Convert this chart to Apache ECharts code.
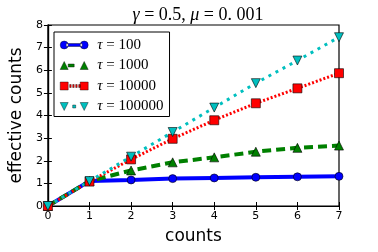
<!DOCTYPE html>
<html><head><meta charset="utf-8">
<script src="https://cdn.jsdelivr.net/npm/echarts@6/dist/echarts.min.js"></script>
<style>html,body{margin:0;padding:0;background:#fff}#c{width:378px;height:252px}</style>
</head><body><div id="c"></div>
<script>
const counts = [0, 1, 2, 3, 4, 5, 6, 7];
const tau100 = [0, 1.1, 1.15, 1.21, 1.24, 1.27, 1.29, 1.31];
const tau1000 = [0, 1.1, 1.57, 1.93, 2.15, 2.4, 2.57, 2.67];
const tau10000 = [0, 1.08, 2.06, 2.97, 3.79, 4.54, 5.2, 5.87];
const tau100000 = [0, 1.1, 2.18, 3.27, 4.35, 5.43, 6.43, 7.46];
const seriesNames = ['τ = 100', 'τ = 1000', 'τ = 10000', 'τ = 100000'];
const titleText = '{i|γ} = 0.5, {i|μ} = 0. 001';
const xLabel = 'counts';
const yLabel = 'effective counts';

const pair = arr => counts.map((c, i) => [c, arr[i]]);
const chart = echarts.init(document.getElementById('c'));
const serif = 'Liberation Serif';
const sans = 'DejaVu Sans';

const icons = [
  'path://M0,4A4,4 0 1,0 8,4A4,4 0 1,0 0,4ZM6,2.5L22,2.5L22,5.5L6,5.5ZM20,4A4,4 0 1,0 28,4A4,4 0 1,0 20,4Z',
  'path://M0,8L4,0L8,8ZM8,2.5L14,2.5L14,5.5L8,5.5ZM20,8L24,0L28,8Z',
  'path://M0,0L8,0L8,8L0,8ZM9.5,2.5L11,2.5L11,5.5L9.5,5.5ZM12.5,2.5L14,2.5L14,5.5L12.5,5.5ZM15.5,2.5L17,2.5L17,5.5L15.5,5.5ZM18.5,2.5L20,2.5L20,5.5L18.5,5.5ZM20,0L28,0L28,8L20,8Z',
  'path://M0,0L8,0L4,8ZM12.5,2.5L15.5,2.5L15.5,5.5L12.5,5.5ZM20,0L28,0L24,8Z'
];

const mk = (name, data, color, symbol, rot, size, lw, type) => ({
  name, type: 'line', data: pair(data), xAxisIndex: 0, yAxisIndex: 0,
  symbol, symbolRotate: rot, symbolSize: size, showSymbol: true,
  lineStyle: { color, width: lw, type },
  itemStyle: { color, borderColor: '#000', borderWidth: 0.6 },
  animation: false, clip: false
});

chart.setOption({
  animation: false,
  title: {
    text: titleText, left: 193, textAlign: 'center', top: 1,
    textStyle: { fontFamily: serif, fontSize: 18, fontWeight: 'normal', color: '#000',
      rich: { i: { fontFamily: serif, fontStyle: 'italic', fontSize: 18 } } }
  },
  grid: { left: 47, right: 39, top: 25, bottom: 46, show: true, borderColor: '#000', borderWidth: 1.2, backgroundColor: 'transparent' },
  legend: {
    orient: 'vertical', left: 54, top: 32,
    data: seriesNames.map((n, i) => ({ name: n, icon: icons[i] })),
    itemWidth: 28, itemHeight: 8, itemGap: 4.5,
    padding: [5, 6, 2, 6],
    backgroundColor: '#fff', borderColor: '#000', borderWidth: 1,
    itemStyle: { borderColor: '#000', borderWidth: 0.4 },
    formatter: n => '{i|τ}' + n.slice(1),
    textStyle: { fontFamily: serif, fontSize: 15, lineHeight: 16, color: '#000', padding: [0, 0, 0, 4],
      rich: { i: { fontFamily: serif, fontStyle: 'italic', fontSize: 15, lineHeight: 16 } } }
  },
  xAxis: [
    { type: 'value', min: 0, max: 7, interval: 1, position: 'bottom',
      name: xLabel, nameLocation: 'middle', nameGap: 22,
      nameTextStyle: { fontFamily: sans, fontSize: 17, color: '#000' },
      axisLine: { show: true, lineStyle: { color: '#000', width: 1.2 } },
      axisTick: { show: true, inside: true, length: 4, lineStyle: { color: '#000' } },
      axisLabel: { fontFamily: sans, fontSize: 11, color: '#000', margin: 5 },
      splitLine: { show: false } },
    { type: 'value', min: 0, max: 7, interval: 1, position: 'top',
      axisLine: { show: true, lineStyle: { color: '#000', width: 1.2 } },
      axisTick: { show: true, inside: true, length: 4, lineStyle: { color: '#000' } },
      axisLabel: { show: false }, splitLine: { show: false } }
  ],
  yAxis: [
    { type: 'value', min: 0, max: 8, interval: 1, position: 'left',
      name: yLabel, nameLocation: 'middle', nameGap: 22, nameRotate: 90,
      nameTextStyle: { fontFamily: sans, fontSize: 17, color: '#000' },
      axisLine: { show: true, lineStyle: { color: '#000', width: 1.2 } },
      axisTick: { show: true, inside: true, length: 4, lineStyle: { color: '#000' } },
      axisLabel: { fontFamily: sans, fontSize: 11, color: '#000', margin: 5 },
      splitLine: { show: false } },
    { type: 'value', min: 0, max: 8, interval: 1, position: 'right',
      axisLine: { show: true, lineStyle: { color: '#000', width: 1.2 } },
      axisTick: { show: true, inside: true, length: 4, lineStyle: { color: '#000' } },
      axisLabel: { show: false }, splitLine: { show: false } }
  ],
  series: [
    mk(seriesNames[0], tau100, '#0000ff', 'circle', 0, 8, 4, 'solid'),
    mk(seriesNames[1], tau1000, '#008000', 'triangle', 0, 9, 4, [9, 5]),
    mk(seriesNames[2], tau10000, '#ff0000', 'rect', 0, 9, 3, [2, 2]),
    mk(seriesNames[3], tau100000, '#00bfbf', 'triangle', 180, 9, 3, [3, 5])
  ]
});
</script></body></html>
